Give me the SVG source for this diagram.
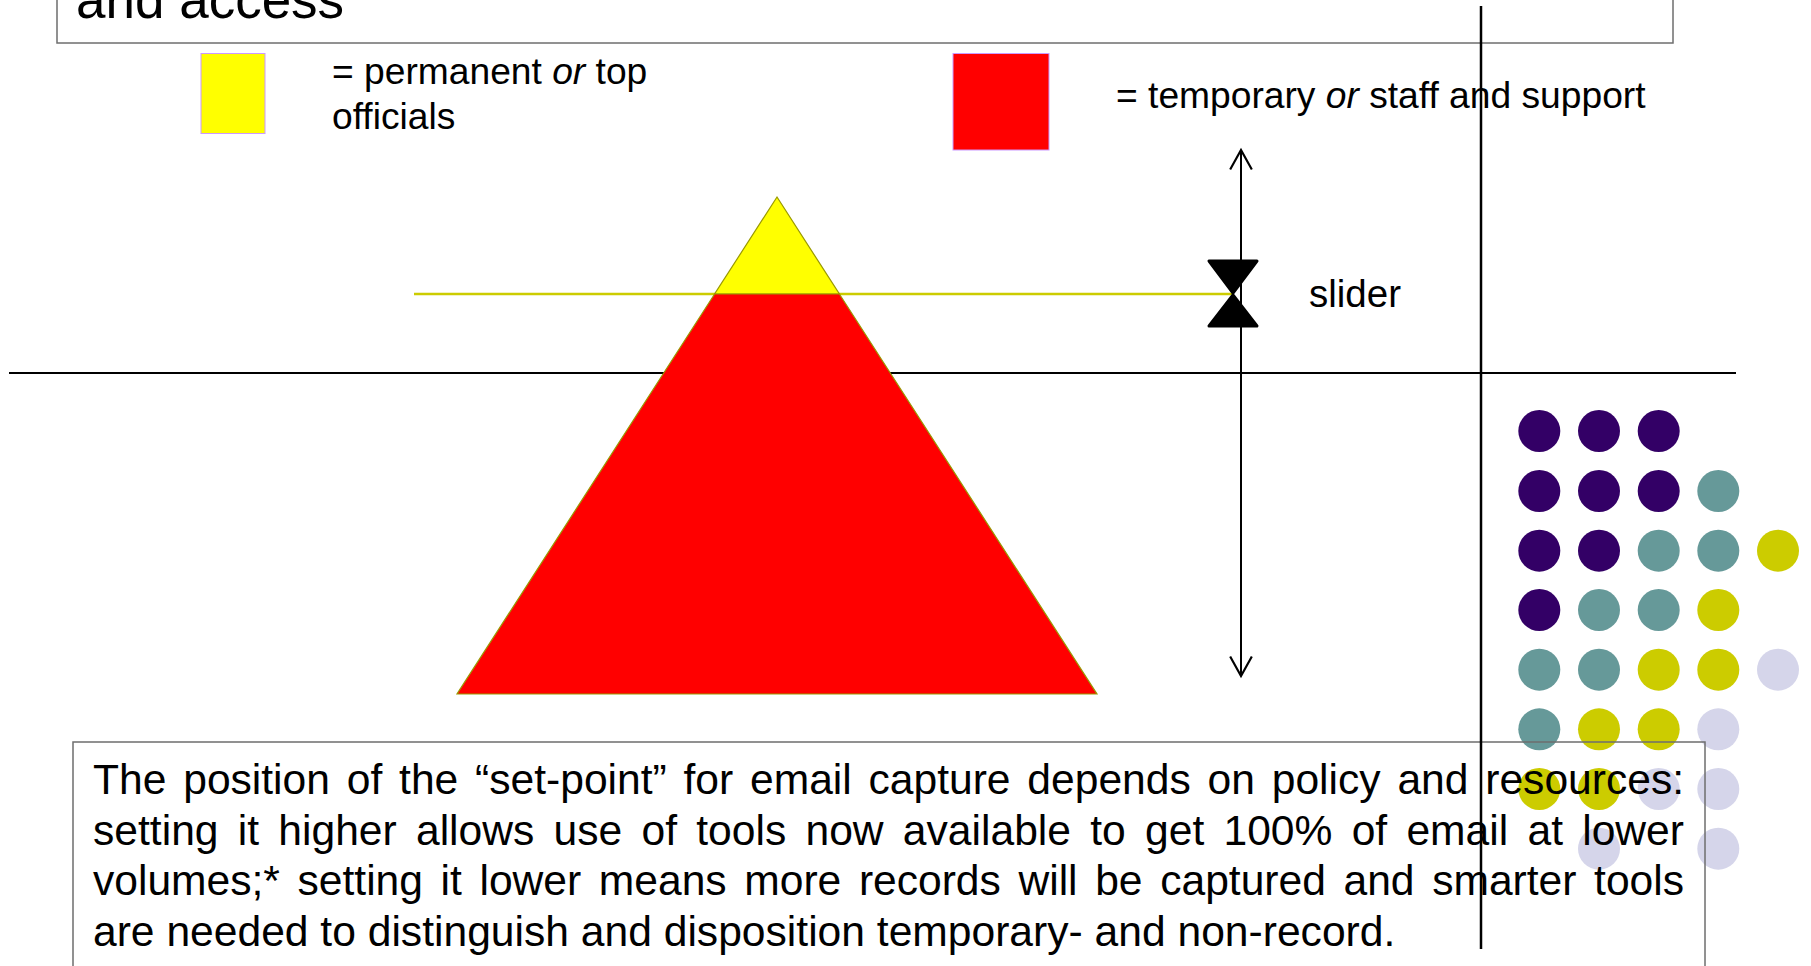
<svg xmlns="http://www.w3.org/2000/svg" width="1811" height="966" viewBox="0 0 1811 966">
  <style>
    text { font-family: "Liberation Sans", Arial, sans-serif; fill: #000; }
    .box { fill: none; stroke: #6e6e6e; stroke-width: 1.5; }
    .legend { font-size: 37.2px; }
    .para { font-size: 42.6px; }
    .tri { stroke: #999900; stroke-width: 1.2; stroke-linejoin: miter; }
    .p { fill: #330066; } .t { fill: #669999; } .o { fill: #cccc00; } .l { fill: #d5d5ea; }
  </style>
  <defs>
    <marker id="open" markerUnits="userSpaceOnUse" markerWidth="26" markerHeight="26" viewBox="-2 -12 22 24" refX="18" refY="0" orient="auto-start-reverse">
      <path d="M0,-10 L18,0 L0,10" fill="none" stroke="#000" stroke-width="2"/>
    </marker>
  </defs>
  <rect width="1811" height="966" fill="#fff"/>

  <g id="title">
    <rect class="box" x="57" y="-60" width="1616" height="103" fill="#fff"/>
    <text x="76" y="18" font-size="53">and access</text>
  </g>

  <g id="legend-permanent">
    <rect x="201" y="53.5" width="64" height="80" fill="#ffff00" stroke="#cc99ff" stroke-width="1"/>
    <text class="legend" x="332" y="84">= permanent <tspan font-style="italic">or</tspan> top</text>
    <text class="legend" x="332" y="129">officials</text>
  </g>

  <g id="legend-temporary">
    <rect x="953" y="53.5" width="96" height="96.5" fill="#ff0000" stroke="#cc99ff" stroke-width="1"/>
    <text class="legend" x="1116" y="108">= temporary <tspan font-style="italic">or</tspan> staff and support</text>
  </g>

  <g id="connectors">
    <line x1="9" y1="373" x2="1736" y2="373" stroke="#000" stroke-width="2"/>
    <line x1="414" y1="294" x2="1232" y2="294" stroke="#cccc00" stroke-width="2.5"/>
    <line x1="1241" y1="150" x2="1241" y2="676" stroke="#000" stroke-width="2" marker-start="url(#open)" marker-end="url(#open)"/>
  </g>

  <g id="pyramid">
    <polygon class="tri" points="777,197 839.4,294 714.6,294" fill="#ffff00"/>
    <polygon class="tri" points="714.6,294 839.4,294 1097,694 457,694" fill="#ff0000"/>
  </g>

  <g id="slider">
    <path d="M1209,261 L1257,261 L1233,293 Z M1233,295 L1257,326 L1209,326 Z" fill="#000" stroke="#000" stroke-width="3" stroke-linejoin="round"/>
    <text x="1309" y="307" font-size="38.5">slider</text>
  </g>

  <g id="dots">
    <circle class="p" cx="1539.3" cy="431" r="21"/>
    <circle class="p" cx="1599" cy="431" r="21"/>
    <circle class="p" cx="1658.7" cy="431" r="21"/>

    <circle class="p" cx="1539.3" cy="491" r="21"/>
    <circle class="p" cx="1599" cy="491" r="21"/>
    <circle class="p" cx="1658.7" cy="491" r="21"/>
    <circle class="t" cx="1718.3" cy="491" r="21"/>

    <circle class="p" cx="1539.3" cy="550.7" r="21"/>
    <circle class="p" cx="1599" cy="550.7" r="21"/>
    <circle class="t" cx="1658.7" cy="550.7" r="21"/>
    <circle class="t" cx="1718.3" cy="550.7" r="21"/>
    <circle class="o" cx="1778" cy="550.7" r="21"/>

    <circle class="p" cx="1539.3" cy="610" r="21"/>
    <circle class="t" cx="1599" cy="610" r="21"/>
    <circle class="t" cx="1658.7" cy="610" r="21"/>
    <circle class="o" cx="1718.3" cy="610" r="21"/>

    <circle class="t" cx="1539.3" cy="669.7" r="21"/>
    <circle class="t" cx="1599" cy="669.7" r="21"/>
    <circle class="o" cx="1658.7" cy="669.7" r="21"/>
    <circle class="o" cx="1718.3" cy="669.7" r="21"/>
    <circle class="l" cx="1778" cy="669.7" r="21"/>

    <circle class="t" cx="1539.3" cy="729.3" r="21"/>
    <circle class="o" cx="1599" cy="729.3" r="21"/>
    <circle class="o" cx="1658.7" cy="729.3" r="21"/>
    <circle class="l" cx="1718.3" cy="729.3" r="21"/>

    <circle class="o" cx="1539.3" cy="789" r="21"/>
    <circle class="o" cx="1599" cy="789" r="21"/>
    <circle class="l" cx="1658.7" cy="789" r="21"/>
    <circle class="l" cx="1718.3" cy="789" r="21"/>

    <circle class="l" cx="1599" cy="848.7" r="21"/>
    <circle class="l" cx="1718.3" cy="848.7" r="21"/>
  </g>

  <g id="caption">
    <rect class="box" x="73" y="742" width="1632" height="260"/>
    <text class="para" x="93" y="794" word-spacing="5" textLength="1591" lengthAdjust="spacing">The position of the “set-point” for email capture depends on policy and resources:</text>
    <text class="para" x="93" y="844.5" word-spacing="7.4" textLength="1591" lengthAdjust="spacing">setting it higher allows use of tools now available to get 100% of email at lower</text>
    <text class="para" x="93" y="895" word-spacing="5.8" textLength="1591" lengthAdjust="spacing">volumes;* setting it lower means more records will be captured and smarter tools</text>
    <text class="para" x="93" y="945.5">are needed to distinguish and disposition temporary- and non-record.</text>
  </g>

  <g id="divider">
    <line x1="1481" y1="6" x2="1481" y2="949" stroke="#000" stroke-width="2.5"/>
  </g>
</svg>
